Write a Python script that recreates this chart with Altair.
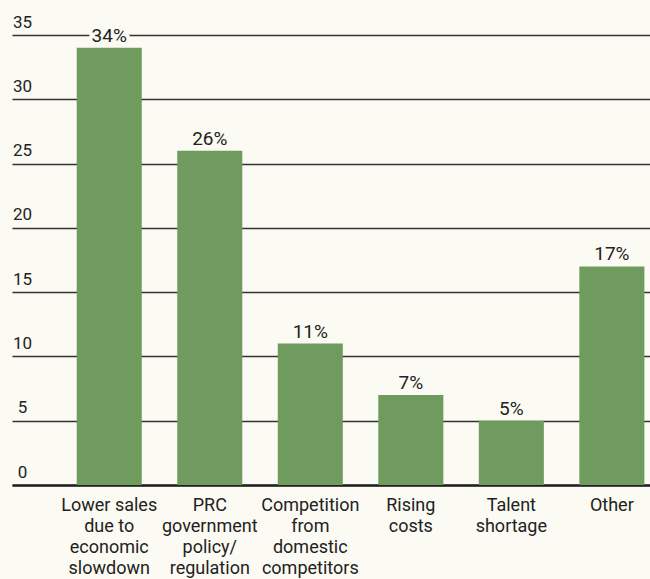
import altair as alt
import pandas as pd

categories = [
    "Lower sales|due to|economic|slowdown",
    "PRC|government|policy/|regulation",
    "Competition|from|domestic|competitors",
    "Rising|costs",
    "Talent|shortage",
    "Other",
]
values = [34, 26, 11, 7, 5, 17]
labels = ["34%", "26%", "11%", "7%", "5%", "17%"]
y_ticks = [0, 5, 10, 15, 20, 25, 30, 35]

df = pd.DataFrame({"cat": categories, "value": values, "label": labels})

FONT = "Roboto"
BG = "#fbfaf3"
GREEN = "#6f9b5e"
INK = "#222222"

x = alt.X(
    "cat:N",
    sort=categories,
    scale=alt.Scale(paddingInner=0.353, paddingOuter=0.35, align=0.92),
    axis=alt.Axis(
        title=None,
        labelAngle=0,
        labelExpr="split(datum.label, '|')",
        labelFont=FONT,
        labelFontSize=18,
        labelLineHeight=21,
        labelColor=INK,
        labelPadding=11,
        labelBaseline="top",
        ticks=False,
        domainColor=INK,
        domainWidth=2.5,
        grid=False,
    ),
)
y = alt.Y(
    "value:Q",
    scale=alt.Scale(domain=[0, 35], nice=False),
    axis=alt.Axis(
        title=None,
        values=y_ticks,
        grid=True,
        gridColor="#333333",
        gridWidth=1.5,
        domain=False,
        ticks=False,
        tickSize=0,
        labelPadding=-10,
        labelAlign="center",
        labelBaseline="alphabetic",
        labelOffset=-8,
        labelFont=FONT,
        labelFontSize=17,
        labelColor=INK,
    ),
)

base = alt.Chart(df)
bars = base.mark_bar(color=GREEN).encode(x=x, y=y)
halo = base.mark_text(
    font=FONT, fontSize=19, baseline="alphabetic", dy=-6,
    stroke=BG, strokeWidth=8, strokeJoin="round", fill=BG,
).encode(x=alt.X("cat:N", sort=categories), y="value:Q", text="label:N")
text = base.mark_text(
    font=FONT, fontSize=19, baseline="alphabetic", dy=-6, color=INK,
).encode(x=alt.X("cat:N", sort=categories), y="value:Q", text="label:N")

chart = (
    alt.layer(bars, halo, text)
    .properties(
        width=638,
        height=450,
        autosize=alt.AutoSizeParams(type="none"),
        padding={"left": 12, "top": 35, "right": 0, "bottom": 94},
        background=BG,
    )
    .configure_view(stroke=None)
)

chart.save("out.html", embed_options={"renderer": "svg", "actions": False})
